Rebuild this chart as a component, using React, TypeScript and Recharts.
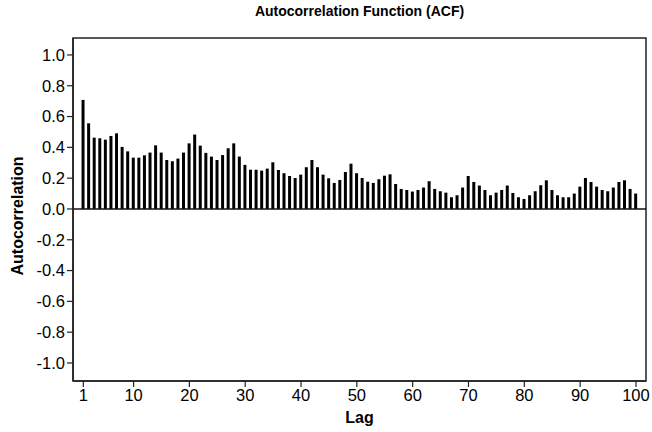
import React from "react";
import { BarChart, Bar, XAxis, YAxis, ReferenceLine, ReferenceArea } from "recharts";

const lags: number[] = Array.from({ length: 100 }, (_, i) => i + 1);
const acfValues: number[] = [
  0.708, 0.556, 0.463, 0.459, 0.45, 0.474, 0.491, 0.403, 0.374, 0.333,
  0.333, 0.348, 0.366, 0.413, 0.366, 0.318, 0.31, 0.327, 0.366, 0.426,
  0.483, 0.411, 0.364, 0.34, 0.318, 0.35, 0.394, 0.426, 0.34, 0.286,
  0.255, 0.255, 0.249, 0.262, 0.303, 0.253, 0.232, 0.214, 0.201, 0.223,
  0.271, 0.318, 0.271, 0.223, 0.199, 0.169, 0.188, 0.24, 0.294, 0.232,
  0.201, 0.177, 0.169, 0.193, 0.216, 0.225, 0.162, 0.13, 0.123, 0.113,
  0.123, 0.139, 0.18, 0.13, 0.115, 0.106, 0.076, 0.089, 0.139, 0.214,
  0.175, 0.152, 0.123, 0.089, 0.106, 0.123, 0.152, 0.104, 0.076, 0.065,
  0.089, 0.115, 0.154, 0.186, 0.123, 0.089, 0.076, 0.076, 0.1, 0.145,
  0.201, 0.175, 0.145, 0.123, 0.115, 0.139, 0.175, 0.186, 0.13, 0.1,
];
const xTicks: number[] = [1, 10, 20, 30, 40, 50, 60, 70, 80, 90, 100];
const yTicks: number[] = [-1.0, -0.8, -0.6, -0.4, -0.2, 0.0, 0.2, 0.4, 0.6, 0.8, 1.0];
const title = "Autocorrelation Function (ACF)";
const xLabel = "Lag";
const yLabel = "Autocorrelation";

const data = lags.map((lag, i) => ({ lag, acf: acfValues[i] }));

const X_MIN = -0.85;
const X_MAX = 101.8;
const Y_MIN = -1.117;
const Y_MAX = 1.11;

const font = "'Liberation Sans', Arial, Helvetica, sans-serif";

export default function App() {
  return (
    <div style={{ position: "absolute", left: 0, top: 0, width: 652, height: 432, background: "#fff", fontFamily: font }}>
      <div
        style={{
          position: "absolute",
          left: 73,
          width: 573,
          top: 3,
          textAlign: "center",
          fontWeight: "bold",
          fontSize: 14,
          color: "#000",
        }}
      >
        {title}
      </div>
      <BarChart
        width={652}
        height={432}
        data={data}
        margin={{ top: 38, right: 6, bottom: 0, left: 0 }}
        barCategoryGap={0}
      >
        <XAxis
          dataKey="lag"
          type="number"
          domain={[X_MIN, X_MAX]}
          allowDataOverflow
          ticks={xTicks}
          interval={0}
          height={51}
          axisLine={{ stroke: "#222", strokeWidth: 1.5 }}
          tickLine={{ stroke: "#222", strokeWidth: 1.2 }}
          tickSize={6}
          tick={{ fill: "#000", fontSize: 16.5, fontFamily: font }}
          label={{ value: xLabel, position: "insideBottom", offset: 9, fill: "#000", fontSize: 16, fontWeight: "bold", fontFamily: font }}
        />
        <YAxis
          type="number"
          domain={[Y_MIN, Y_MAX]}
          allowDataOverflow
          ticks={yTicks}
          interval={0}
          width={73}
          tickFormatter={(v: number) => v.toFixed(1)}
          axisLine={{ stroke: "#222", strokeWidth: 1.5 }}
          tickLine={{ stroke: "#222", strokeWidth: 1.2 }}
          tickSize={6}
          tick={{ fill: "#000", fontSize: 16.5, fontFamily: font }}
          label={{ value: yLabel, angle: -90, position: "insideLeft", offset: 17, dy: 66, fill: "#000", fontSize: 16, fontWeight: "bold", fontFamily: font }}
        />
        <ReferenceArea
          x1={X_MIN}
          x2={X_MAX}
          y1={Y_MIN}
          y2={Y_MAX}
          fill="none"
          stroke="#222"
          strokeWidth={1.5}
          ifOverflow="visible"
        />
        <ReferenceLine y={0} stroke="#111" strokeWidth={1.5} />
        <Bar dataKey="acf" fill="#000" barSize={3} isAnimationActive={false} />
      </BarChart>
    </div>
  );
}
